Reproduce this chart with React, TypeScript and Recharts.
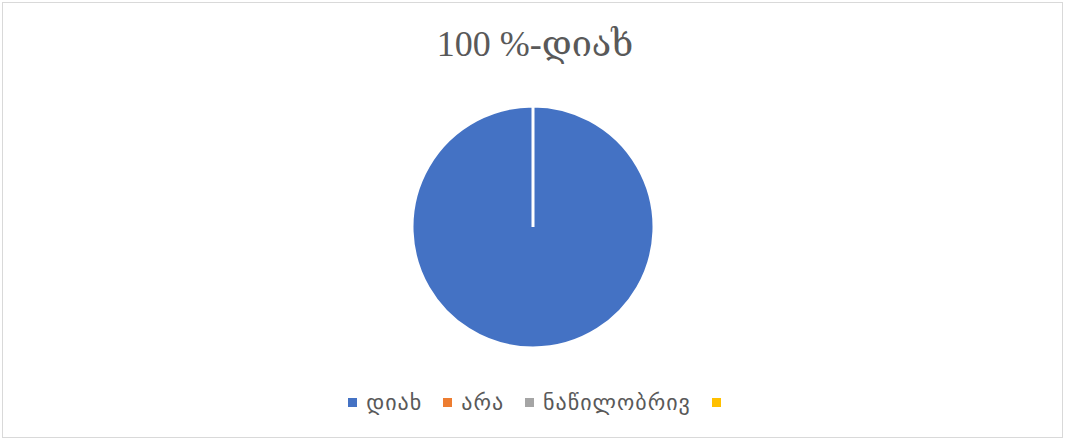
import React from 'react';
import { PieChart, Pie, Cell, Legend } from 'recharts';

const categories = ['დიახ', 'არა', 'ნაწილობრივ', ''];
const values = [100, 0, 0, 0];
const colors = ['#4472C4', '#ED7D31', '#A5A5A5', '#FFC000'];
const title = '100 %-დიახ';

const rows = categories.map((name, i) => ({ name, value: values[i] }));

function LegendContent() {
  return (
    <div style={{ display: 'flex', justifyContent: 'center', alignItems: 'center', paddingLeft: 4 }}>
      {categories.map((name, i) => (
        <div key={i} style={{ display: 'flex', alignItems: 'center', marginRight: i < categories.length - 1 ? 21 : 0 }}>
          <span style={{ width: 9, height: 9, background: colors[i], display: 'inline-block', marginRight: name ? 9 : 0 }} />
          <span style={{ fontSize: 22, letterSpacing: 1, color: '#595959', fontFamily: '"DejaVu Sans", sans-serif' }}>{name}</span>
        </div>
      ))}
    </div>
  );
}

export default function App() {
  return (
    <div style={{ position: 'absolute', left: 0, top: 0, width: 1065, height: 439, background: '#fff' }}>
      <div
        style={{
          position: 'absolute',
          left: 2,
          top: 2,
          width: 1059,
          height: 434,
          border: '1px solid #d9d9d9',
        }}
      />
      <div
        style={{
          position: 'absolute',
          left: 0,
          width: 1070,
          top: 22,
          lineHeight: '44px',
          textAlign: 'center',
          fontSize: 36,
          color: '#595959',
          fontFamily: '"Liberation Serif", "DejaVu Serif", serif',
        }}
      >
        {title}
      </div>
      <div style={{ position: 'absolute', left: 0, top: 0 }}>
        <PieChart width={1065} height={439}>
          <Pie
            data={rows}
            dataKey="value"
            nameKey="name"
            cx={528}
            cy={222}
            outerRadius={121}
            startAngle={90}
            endAngle={-270}
            stroke="#ffffff"
            strokeWidth={3}
            isAnimationActive={false}
          >
            {rows.map((r, i) => (
              <Cell key={i} fill={colors[i]} />
            ))}
          </Pie>
          <Legend
            verticalAlign="bottom"
            align="center"
            wrapperStyle={{ bottom: 24, left: 0, width: 1065 }}
            content={<LegendContent />}
          />
        </PieChart>
      </div>
    </div>
  );
}
